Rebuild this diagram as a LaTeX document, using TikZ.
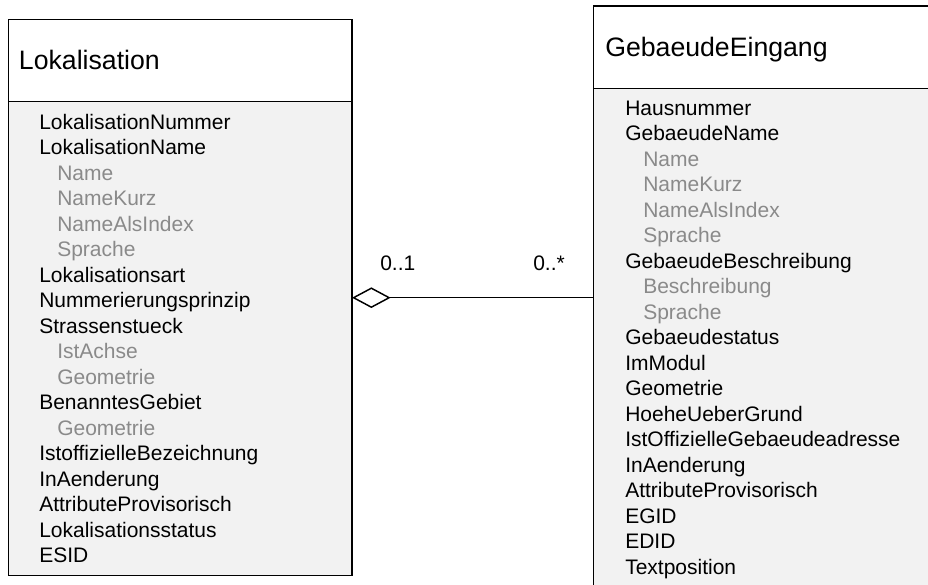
\documentclass[tikz,border=0pt]{standalone}
\usepackage{fontspec}
\setmainfont{Liberation Sans}
\usepackage{tikz}
\tikzset{>=latex}
\usetikzlibrary{arrows.meta}
\usetikzlibrary{positioning}
\definecolor{bodyfill}{HTML}{F2F2F2}
\definecolor{attrgrey}{HTML}{8A8A8A}

\tikzset{
    classhead/.style={draw, line width=1.1pt, fill=white, anchor=north west, inner sep=0pt, outer sep=0pt},
    classbody/.style={draw, line width=1.1pt, fill=bodyfill, anchor=north west, inner sep=0pt, outer sep=0pt},
    classname/.style={anchor=base west, inner sep=0pt, font=\fontsize{20}{24}\selectfont},
    attr/.style={anchor=base west, inner sep=0pt, font=\fontsize{15.75}{19}\selectfont},
    subattr/.style={attr, text=attrgrey, xshift=13.5pt},
    aggr/.style={line width=1.1pt, arrows={Diamond[fill=white, length=29pt, width=15.5pt]-}}
}

\begin{document}
\begin{tikzpicture}[x=0.75pt, y=-0.75pt]
            \useasboundingbox (0, 0) rectangle (928, 585);
            \fill[white] (0, 0) rectangle (928, 585);
            \clip (0, 0) rectangle (928, 585);
            % Lokalisation
            \node[classhead, minimum width=257.8pt, minimum height=61.65pt] (lokHead) at (8.3, 19.5) {};
            \node[classbody, minimum width=257.8pt, minimum height=355.5pt] (lokBody) at (8.3, 101.7) {};
            \node[classname] (lokTitle) at (18.7, 69.3) {Lokalisation};
            \foreach \sty/\txt [count=\i from 0] in {attr/LokalisationNummer, attr/LokalisationName,
                subattr/Name, subattr/NameKurz, subattr/NameAlsIndex, subattr/Sprache,
                attr/Lokalisationsart, attr/Nummerierungsprinzip, attr/Strassenstueck,
                subattr/IstAchse, subattr/Geometrie, attr/BenanntesGebiet, subattr/Geometrie,
                attr/IstoffizielleBezeichnung, attr/InAenderung, attr/AttributeProvisorisch,
                attr/Lokalisationsstatus, attr/ESID}
                \node[\sty] (lokAttr\i) at (39, {129.3 + 25.5*\i}) {\txt};
            % GebaeudeEingang
            \node[classhead, minimum width=270pt, minimum height=62pt] (gebHead) at (593.3, 6) {};
            \node[classbody, minimum width=270pt, minimum height=382.5pt] (gebBody) at (593.3, 88.7) {};
            \node[classname] (gebTitle) at (605, 56.5) {GebaeudeEingang};
            \foreach \sty/\txt [count=\i from 0] in {attr/Hausnummer, attr/GebaeudeName,
                subattr/Name, subattr/NameKurz, subattr/NameAlsIndex, subattr/Sprache,
                attr/GebaeudeBeschreibung, subattr/Beschreibung, subattr/Sprache,
                attr/Gebaeudestatus, attr/ImModul, attr/Geometrie, attr/HoeheUeberGrund,
                attr/IstOffizielleGebaeudeadresse, attr/InAenderung, attr/AttributeProvisorisch,
                attr/EGID, attr/EDID, attr/Textposition}
                \node[\sty] (gebAttr\i) at (625, {115.3 + 25.5*\i}) {\txt};
            % association
            \coordinate (assoc) at (0, 297.7);
            \draw[aggr] (lokBody.east |- assoc) -- (gebBody.west |- assoc);
            \node[attr] (multLok) at (380, 270.5) {0..1};
            \node[attr] (multGeb) at (533, 270.5) {0..*};
        \end{tikzpicture}
\end{document}
